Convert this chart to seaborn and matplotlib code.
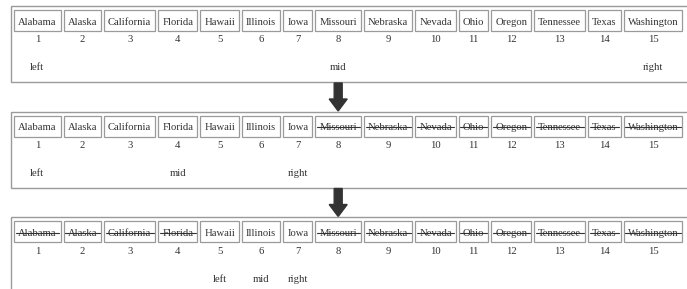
import matplotlib
matplotlib.use("Agg")
import matplotlib.pyplot as plt
import seaborn as sns
from matplotlib.patches import Rectangle, FancyArrow

# Sorted list being searched, one row per step of the binary search.

states = ["Alabama", "Alaska", "California", "Florida", "Hawaii", "Illinois",
          "Iowa", "Missouri", "Nebraska", "Nevada", "Ohio", "Oregon",
          "Tennessee", "Texas", "Washington"]
positions = list(range(1, 16))

# Pointer positions (1-based) at each step.

left_idx = [1, 1, 5]
mid_idx = [8, 4, 6]
right_idx = [15, 7, 7]

# Style.

sns.set_theme(style="white")
plt.rcParams['font.family'] = ['Liberation Serif', 'DejaVu Serif']

text_col = "#333333"
box_col = "#9a9a9a"
fs = 7.65

fig = plt.figure(figsize=(6.87, 2.89), dpi=100)
ax = fig.add_axes([0, 0, 1, 1])
ax.set_xlim(0, 687)
ax.set_ylim(289, 0)
ax.axis("off")

# Measure the names so each cell fits its text.

renderer = fig.canvas.get_renderer()
widths = []
for s in states:
    t = ax.text(0, 0, s, fontsize=fs)
    widths.append(t.get_window_extent(renderer).width)
    t.remove()

pad, gap = 4, 3
lefts = []
x = 14
for w in widths:
    lefts.append(x)
    x += w + 2 * pad + gap
cell_w = [w + 2 * pad for w in widths]
centers = [l + cw / 2 for l, cw in zip(lefts, cell_w)]

# Draw each step.

top0, step_h = 6, 105.5
for k in range(len(left_idx)):
    top = top0 + k * step_h
    ax.add_patch(Rectangle((11, top), 700, 76, fill=False, ec=box_col, lw=1))
    for i, (s, p) in enumerate(zip(states, positions)):
        ax.add_patch(Rectangle((lefts[i], top + 4), cell_w[i], 21,
                               fill=False, ec=box_col, lw=0.9))
        ax.text(centers[i], top + 19, s, fontsize=fs, color=text_col,
                ha="center", va="baseline")
        if p < left_idx[k] or p > right_idx[k]:
            ax.plot([lefts[i] + pad - 2.5, lefts[i] + pad + widths[i] + 2.5],
                    [top + 15.5, top + 15.5], color=text_col, lw=0.8)
        ax.text(centers[i], top + 34, str(p), fontsize=fs, color=text_col,
                ha="center", va="center")
    for name, idx in (("left", left_idx[k]), ("mid", mid_idx[k]), ("right", right_idx[k])):
        ax.text(centers[idx - 1], top + 62, name, fontsize=fs, color=text_col,
                ha="center", va="center")
    if k < len(left_idx) - 1:
        ax.add_patch(FancyArrow(centers[mid_idx[0] - 1], top + 77, 0, 28,
                                width=8, head_width=18, head_length=12,
                                length_includes_head=True, color="#333333"))

fig.savefig("out.png", dpi=100)
